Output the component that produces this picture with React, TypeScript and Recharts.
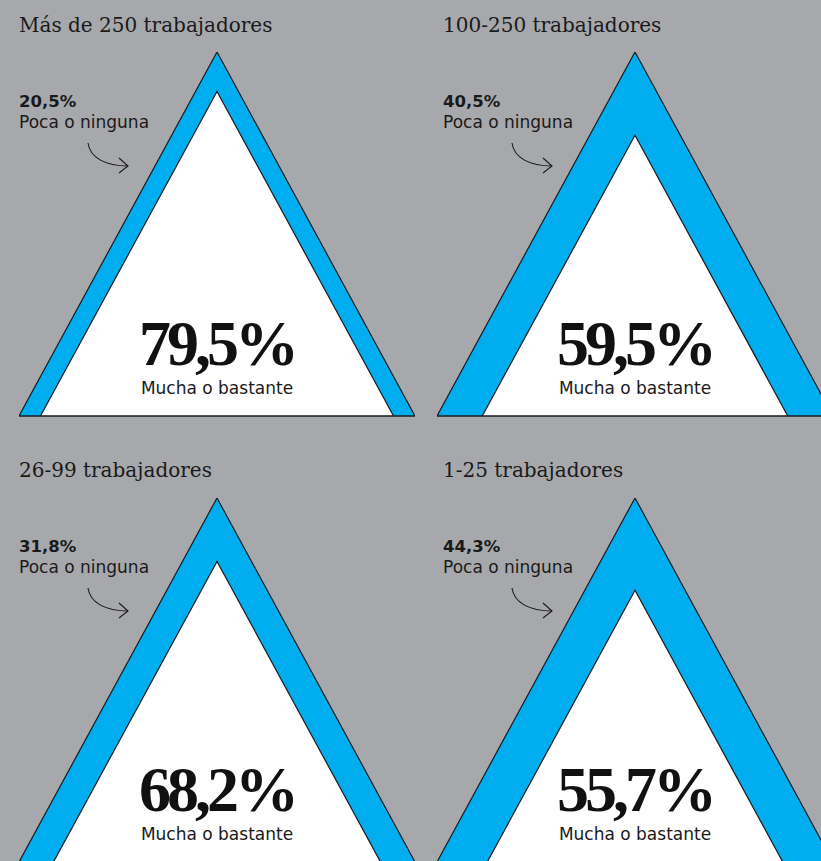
import React from 'react';
import { ComposedChart, Area, XAxis, YAxis, ReferenceLine } from 'recharts';

// Survey shares by company size (Spanish number format in labels)
const groups = ['Más de 250 trabajadores', '100-250 trabajadores', '26-99 trabajadores', '1-25 trabajadores'];
const muchaPct = [79.5, 59.5, 68.2, 55.7];
const pocaPct = [20.5, 40.5, 31.8, 44.3];

// outer triangle = 100%, corners: left base, apex, right base
const outerX = [-1, 0, 1];
const outerY = [0, 1, 0];

const BG = '#a7a8ac';
const BLUE = '#00aeef';
const INK = '#1a1a1a';

// layout (page pixels)
const APEX_X = [217, 635];
const APEX_Y = [52, 498];
const TEXT_X = [19, 443];
const TEXT_OFF = [0, 445];
const TRI_H = 364;
const TRI_HALF = 198;

const fmt = (v: number) => v.toFixed(1).replace('.', ',') + '%';

// inner triangle area is proportional to the "mucha o bastante" share
const buildRows = (pct: number) => {
  const s = Math.sqrt(pct / 100);
  return [
    { x: outerX[0], outer: outerY[0], inner: null },
    { x: -s, outer: null, inner: 0 },
    { x: outerX[1], outer: outerY[1], inner: s },
    { x: s, outer: null, inner: 0 },
    { x: outerX[2], outer: outerY[2], inner: null },
  ];
};

const Triangle = ({ idx }: { idx: number }) => {
  const col = idx % 2;
  const row = Math.floor(idx / 2);
  const w = TRI_HALF * 2 + 24;
  const h = TRI_H + 66;
  return (
    <div style={{ position: 'absolute', left: APEX_X[col] - w / 2, top: APEX_Y[row] - 52 }}>
      <ComposedChart width={w} height={h} data={buildRows(muchaPct[idx])} margin={{ top: 52, right: 12, bottom: 14, left: 12 }}>
        <XAxis type="number" dataKey="x" domain={[-1, 1]} allowDataOverflow hide />
        <YAxis type="number" domain={[0, 1]} allowDataOverflow hide />
        <Area
          type="linear"
          dataKey="outer"
          connectNulls
          fill={BLUE}
          fillOpacity={1}
          stroke={INK}
          strokeWidth={1.2}
          dot={false}
          activeDot={false}
          isAnimationActive={false}
        />
        <Area
          type="linear"
          dataKey="inner"
          connectNulls
          fill="#ffffff"
          fillOpacity={1}
          stroke={INK}
          strokeWidth={1.2}
          dot={false}
          activeDot={false}
          isAnimationActive={false}
        />
        <ReferenceLine y={0} stroke={INK} strokeWidth={1.5} />
      </ComposedChart>
    </div>
  );
};

const Labels = ({ idx }: { idx: number }) => {
  const col = idx % 2;
  const row = Math.floor(idx / 2);
  const tx = TEXT_X[col];
  const off = TEXT_OFF[row];
  const ax = APEX_X[col];
  const ay = APEX_Y[row];
  return (
    <g>
      <text x={tx} y={32 + off} fontFamily="'DejaVu Serif', serif" fontSize={20} fill={INK}>
        {groups[idx]}
      </text>
      <text x={tx} y={107 + off} fontFamily="'DejaVu Sans', sans-serif" fontWeight="bold" fontSize={16.5} fill={INK}>
        {fmt(pocaPct[idx])}
      </text>
      <text x={tx} y={128 + off} fontFamily="'DejaVu Sans', sans-serif" fontSize={17} fill={INK}>
        Poca o ninguna
      </text>
      <g transform={`translate(${tx - 19},${off})`} fill="none" stroke={INK} strokeWidth={1.1}>
        <path d="M88,143 C90,158 106,166 128,166" />
        <path d="M119,158 L128,166 L119,173" />
      </g>
      <text
        x={ax}
        y={ay + 313}
        textAnchor="middle"
        fontFamily="'Liberation Serif', serif"
        fontWeight="bold"
        fontSize={64}
        letterSpacing={-4}
        fill="#111"
      >
        {fmt(muchaPct[idx])}
      </text>
      <text x={ax} y={ay + 342} textAnchor="middle" fontFamily="'DejaVu Sans', sans-serif" fontSize={17} fill={INK}>
        Mucha o bastante
      </text>
    </g>
  );
};

export default function App() {
  return (
    <div style={{ position: 'absolute', left: 0, top: 0, width: 821, height: 861, overflow: 'hidden', background: BG }}>
      {groups.map((g, i) => (
        <Triangle key={g} idx={i} />
      ))}
      <svg width={821} height={861} style={{ position: 'absolute', left: 0, top: 0, pointerEvents: 'none' }}>
        {groups.map((g, i) => (
          <Labels key={g} idx={i} />
        ))}
      </svg>
    </div>
  );
}
